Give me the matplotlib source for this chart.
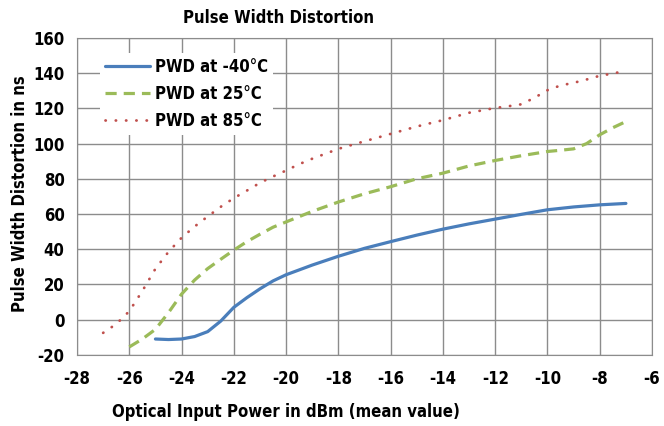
import numpy as np
import matplotlib
matplotlib.use("Agg")
from matplotlib import pyplot as plt

plt.rcParams['font.family'] = ['DejaVu Sans']
plt.rcParams['font.stretch'] = 'condensed'
plt.rcParams['axes.unicode_minus'] = False

# PWD at -40 C
x_m40 = [-25, -24.5, -24, -23.5, -23, -22.5, -22, -21.5, -21, -20.5, -20, -19, -18, -17,
         -16, -15, -14, -13, -12, -11, -10, -9, -8, -7]
y_m40 = [-11, -11.3, -11, -9.6, -6.8, -0.8, 7, 12.5, 17.5, 22, 25.5, 31, 36, 40.5,
         44.3, 48, 51.4, 54.4, 57.1, 59.8, 62.4, 64, 65.2, 66]

# PWD at 25 C
x_25 = [-26, -25.5, -25, -24.5, -24, -23.5, -23, -22.5, -22, -21.5, -21, -20.5, -20, -19,
        -18, -17, -16, -15, -14, -13, -12, -11, -10, -9.5, -9, -8.5, -8, -7.5, -7]
y_25 = [-15.5, -11, -5.5, 4, 14.5, 22.5, 29, 34.3, 39.5, 44.3, 48.5, 52.5, 55.5, 61.5,
        66.8, 71.5, 75.5, 80, 83.2, 87.3, 90.4, 93.1, 95.5, 96.2, 97, 100, 105, 109, 112.5]

# PWD at 85 C
x_85 = [-27, -26.5, -26, -25.5, -25, -24.5, -24, -23.5, -23, -22.5, -22, -21.5, -21, -20.5,
        -20, -19.5, -19, -18, -17, -16, -15, -14, -13, -12, -11.5, -11, -10.5, -10,
        -9.5, -9, -8.5, -8, -7.5, -7]
y_85 = [-7.5, -2.5, 4.8, 16.3, 28.9, 38.5, 46.5, 52.9, 58.6, 64.1, 69, 73.3, 77.7, 81.3,
        84.7, 88.3, 91.4, 97, 101.3, 105.5, 109.7, 113.3, 117.5, 120.2, 121.2, 122.3, 126, 130.3,
        133, 134.5, 136.4, 138.5, 139.8, 141.3]

fig = plt.figure(figsize=(6.64, 4.26), dpi=100)
ax = fig.add_axes([0.116, 0.167, 0.866, 0.744])

ax.plot(x_m40, y_m40, color='#4A7EBB', lw=2.3, solid_capstyle='round', label='PWD at -40°C')
ax.plot(x_25, y_25, color='#9BBB59', lw=2.3, dashes=(3.5, 2.2), label='PWD at 25°C')
ax.plot(x_85, y_85, color='#C0504D', lw=2.0, dashes=(0.1, 3.6), dash_capstyle='round',
        label='PWD at 85°C')

ax.set_xlim(-28, -6)
ax.set_ylim(-20, 160)
ax.set_xticks(np.arange(-28, -5, 2))
ax.set_yticks(np.arange(-20, 161, 20))
ax.grid(color='#8c8c8c', lw=1)
ax.set_axisbelow(True)
for s in ax.spines.values():
    s.set_color('#8c8c8c')
ax.tick_params(length=0, labelsize=12)
ax.tick_params(axis='y', pad=9)
ax.tick_params(axis='x', pad=11)
for t in ax.get_xticklabels() + ax.get_yticklabels():
    t.set_fontweight('bold')

# titolo e assi, posizionati come nell'originale (non centrati sul grafico)
fig.text(0.42, 1 - 18 / 426, 'Pulse Width Distortion', fontsize=12, fontweight='bold',
         ha='center', va='center')
ax.set_xlabel('Optical Input Power in dBm (mean value)', fontsize=12, fontweight='bold')
ax.xaxis.set_label_coords(0.363, -0.18)
ax.xaxis.label.set_va('center')
ax.set_ylabel('Pulse Width Distortion in ns', fontsize=12, fontweight='bold')
ax.yaxis.set_label_coords(-0.1, 0.51)
ax.yaxis.label.set_va('center')

leg = ax.legend(loc='upper left', bbox_to_anchor=(0.025, 0.98), frameon=True, fancybox=False,
                edgecolor='none', framealpha=1, handlelength=2.7,
                prop={'weight': 'bold', 'size': 12, 'stretch': 'condensed'},
                labelspacing=0.55, borderpad=0.3, handletextpad=0.3)

fig.savefig('out.png', dpi=100)
